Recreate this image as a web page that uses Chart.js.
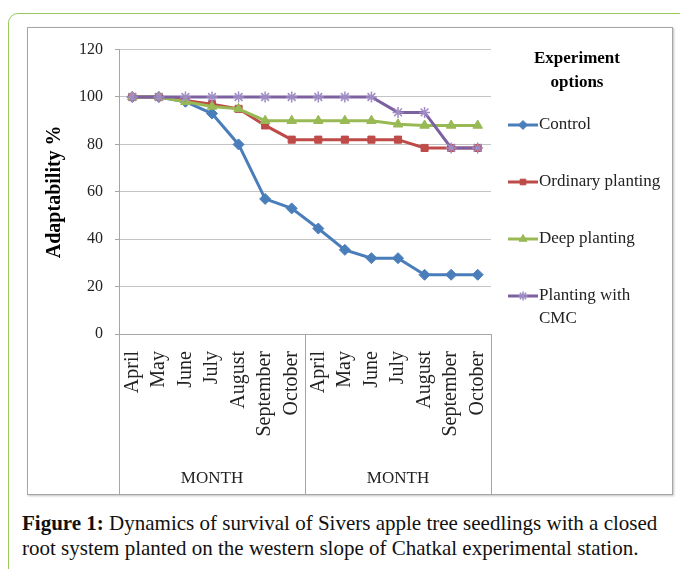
<!DOCTYPE html>
<html>
<head>
<meta charset="utf-8">
<script src="https://cdn.jsdelivr.net/npm/chart.js@4.4.1/dist/chart.umd.min.js"></script>
<style>
  body { margin: 0; background: #fff; width: 680px; height: 569px; overflow: hidden; position: relative; }
  .outer { position: absolute; left: 8px; top: 13px; width: 720px; height: 600px; border: 1.5px solid #97ca5b; border-radius: 10px; }
  .frame { position: absolute; left: 27px; top: 27px; width: 644px; height: 466px; border: 1px solid #a6a6a6; box-shadow: 1px 1px 2px rgba(0,0,0,0.25); background: #fff; }
  .frame canvas { position: absolute; left: 0; top: 0; }
  .caption { position: absolute; left: 22px; top: 511px; font-family: 'Liberation Serif', 'Times New Roman', serif; font-size: 21px; line-height: 25px; color: #111; white-space: nowrap; }
</style>
</head>
<body>
<div class="outer"></div>
<div class="frame"><canvas id="chart" width="644" height="466"></canvas></div>
<div class="caption"><b>Figure 1:</b> Dynamics of survival of Sivers apple tree seedlings with a closed<br>root system planted on the western slope of Chatkal experimental station.</div>
<script>
// months, two seasons
const months = ['April', 'May', 'June', 'July', 'August', 'September', 'October',
                'April', 'May', 'June', 'July', 'August', 'September', 'October'];
const groupLabels = ['MONTH', 'MONTH'];
const seriesNames = ['Control', 'Ordinary planting', 'Deep planting', 'Planting with CMC'];
const legendTitle = ['Experiment', 'options'];

// adaptability %
const control  = [100, 100, 98, 93, 80, 57, 53, 44.5, 35.5, 32, 32, 25, 25, 25];
const ordinary = [100, 100, 98.5, 97, 95, 88, 82, 82, 82, 82, 82, 78.5, 78.5, 78.5];
const deep     = [100, 100, 98, 96, 95, 90, 90, 90, 90, 90, 88.5, 88, 88, 88];
const cmc      = [100, 100, 100, 100, 100, 100, 100, 100, 100, 100, 93.5, 93.5, 78.5, 78.5];

const yTicks = { min: 0, max: 120, step: 20 };

const colors = ['#4a7ebb', '#be4b48', '#98b954', '#7d60a0'];
const styles = ['rectRot', 'rect', 'triangle', 'star'];
const radii = [5.5, 5, 5.5, 5.5];
const serif = "'Liberation Serif', 'Times New Roman', serif";

const seriesData = [control, ordinary, deep, cmc];
const datasets = seriesData.map((d, i) => ({
    label: seriesNames[i],
    data: d,
    borderColor: colors[i],
    backgroundColor: colors[i],
    pointBackgroundColor: colors[i],
    pointBorderColor: i === 3 ? '#a08cc4' : colors[i],
    pointStyle: styles[i],
    pointRadius: radii[i],
    pointBorderWidth: i === 3 ? 1.5 : 1,
    borderWidth: 3,
    tension: 0,
    order: 4 - i
}));

// group separators below the axis (Excel multi-level categories)
const separators = {
    id: 'separators',
    afterDraw(chart) {
        const ctx = chart.ctx;
        const x = chart.scales.x;
        const mid = (x.getPixelForValue(6) + x.getPixelForValue(7)) / 2;
        ctx.save();
        ctx.strokeStyle = '#a6a6a6';
        ctx.lineWidth = 1;
        [x.left, mid, x.right].forEach(px => {
            ctx.beginPath();
            ctx.moveTo(Math.round(px) + 0.5, chart.chartArea.bottom);
            ctx.lineTo(Math.round(px) + 0.5, chart.height);
            ctx.stroke();
        });
        ctx.restore();
    }
};

// legend on the right: line + marker, wrapped text
const sideLegend = {
    id: 'sideLegend',
    afterDraw(chart) {
        const ctx = chart.ctx;
        const cx = 549, lineX0 = 480, lineX1 = 510, textX = 511;
        const rowY = [97, 154, 211, 268];
        ctx.save();
        ctx.fillStyle = '#000';
        ctx.textAlign = 'center';
        ctx.textBaseline = 'middle';
        ctx.font = 'bold 17px ' + serif;
        legendTitle.forEach((t, i) => ctx.fillText(t, cx, 31 + i * 24));

        ctx.font = '17px ' + serif;
        ctx.textAlign = 'left';
        const maxW = chart.width - textX - 4;
        chart.data.datasets.forEach((ds, i) => {
            const y = rowY[i];
            ctx.strokeStyle = ds.borderColor;
            ctx.lineWidth = 3;
            ctx.beginPath();
            ctx.moveTo(lineX0, y);
            ctx.lineTo(lineX1, y);
            ctx.stroke();
            ctx.fillStyle = ds.pointBackgroundColor;
            ctx.strokeStyle = ds.pointBorderColor;
            ctx.lineWidth = ds.pointBorderWidth;
            Chart.helpers.drawPoint(ctx, { pointStyle: ds.pointStyle, radius: ds.pointRadius - 1, rotation: 0, borderWidth: ds.pointBorderWidth }, (lineX0 + lineX1) / 2, y);
            // simple word wrap
            const words = ds.label.split(' ');
            const lines = [];
            let cur = '';
            words.forEach(w => {
                const test = cur ? cur + ' ' + w : w;
                if (ctx.measureText(test).width > maxW && cur) { lines.push(cur); cur = w; }
                else cur = test;
            });
            lines.push(cur);
            ctx.fillStyle = '#222';
            lines.forEach((ln, k) => ctx.fillText(ln, textX, y + k * 23));
        });
        ctx.restore();
    }
};

new Chart(document.getElementById('chart').getContext('2d'), {
    type: 'line',
    data: { labels: months, datasets: datasets },
    options: {
        responsive: false,
        animation: false,
        devicePixelRatio: 1,
        layout: { padding: { top: 12, right: 181, left: 0, bottom: 0 } },
        plugins: { legend: { display: false }, tooltip: { enabled: false } },
        scales: {
            y: {
                min: yTicks.min, max: yTicks.max,
                ticks: { stepSize: yTicks.step, padding: 12, color: '#222', font: { family: serif, size: 16 } },
                grid: { color: '#c4c4c4', tickLength: 4, tickColor: '#a6a6a6' },
                border: { color: '#a6a6a6' },
                title: { display: true, text: 'Adaptability %', color: '#000', padding: { top: 15, bottom: 0 }, font: { family: serif, size: 20, weight: 'bold' } },
                afterFit(s) { s.width = 91; }
            },
            x: {
                offset: true,
                weight: 0,
                grid: { display: false },
                border: { display: true, color: '#a6a6a6' },
                ticks: { autoSkip: false, maxRotation: 90, minRotation: 90, padding: 9, color: '#222', font: { family: serif, size: 20 } },
                afterFit(s) { s.height = 118; }
            },
            x2: {
                type: 'category',
                labels: groupLabels,
                position: 'bottom',
                offset: true,
                weight: 1,
                grid: { display: false },
                border: { display: false },
                ticks: { padding: 8, color: '#222', font: { family: serif, size: 17 } },
                afterFit(s) { s.height = 42; }
            }
        }
    },
    plugins: [separators, sideLegend]
});
</script>
</body>
</html>
